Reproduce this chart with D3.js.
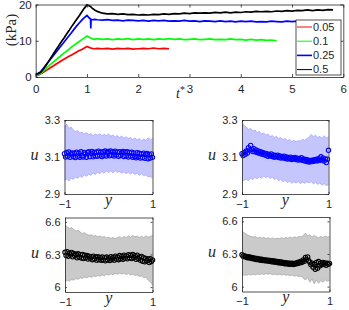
<!DOCTYPE html>
<meta charset="utf-8">
<style>
body { margin:0; background:#fff; }
svg { display:block; }
.tick text { font: 11px "Liberation Sans", Arial, sans-serif; fill:#262626; }
.domain, .tick line { stroke:#262626; stroke-width:0.8; }
.math { font-family: "Liberation Serif", "Times New Roman", serif; font-style: italic; fill:#262626; }
.leg { font: 11px "Liberation Sans", Arial, sans-serif; fill:#262626; }
</style>
<body>
<svg width="349" height="310"></svg>
<script src="https://d3js.org/d3.v7.min.js"></script>
<script>
// ---- top chart: load vs t* for four rates ----
var tPts = [0,0.05,0.1,0.15,0.2,0.25,0.3,0.35,0.4,0.45,0.5,0.55,0.6,0.65,0.7,0.75,0.8,0.85,0.9,0.95,1.0,1.05,1.07,1.075,1.08,1.1,1.15,1.2,
  1.3,1.4,1.5,1.6,1.7,1.8,1.9,2.0,2.1,2.2,2.3,2.4,2.5,2.6,2.7,2.8,2.9,3.0,3.1,3.2,3.3,3.4,3.5,3.6,3.7,3.8,3.9,4.0,
  4.1,4.2,4.3,4.4,4.5,4.6,4.7,4.8,4.9,5.0,5.1,5.2,5.3,5.4,5.5,5.6,5.7,5.8];
var rateNames = ["0.05", "0.1", "0.25", "0.5"];
var rateColors = ["#ff0000", "#00ff00", "#0000ff", "#000000"];
var sRed = [0.3,0.5,0.9,1.3,1.8,2.2,2.7,3.1,3.6,4.0,4.5,4.9,5.3,5.7,6.1,6.5,6.9,7.3,7.6,8.0,8.4,8.1,8.0,8.0,8.0,7.9,7.8,7.9,
  7.8,7.9,7.7,7.9,7.8,7.9,7.7,7.8,7.9,7.8,8.0,7.8,7.9,7.8];
var sGreen = [0.3,0.6,1.0,1.7,2.4,3.0,3.6,4.2,4.8,5.4,6.0,6.6,7.1,7.7,8.3,8.8,9.3,9.8,10.3,10.8,11.3,10.9,10.8,10.8,10.7,10.6,10.4,10.6,
  10.4,10.5,10.3,10.5,10.4,10.6,10.3,10.5,10.4,10.5,10.3,10.5,10.4,10.6,10.4,10.5,10.3,10.4,10.5,10.3,10.4,10.5,10.3,10.4,
  10.3,10.5,10.3,10.4,10.2,10.4,10.2,10.3,10.1,10.2,10.0];
var sBlue = [0.6,0.9,1.5,2.4,3.3,4.2,5.1,6.0,6.9,7.8,8.7,9.6,10.5,11.4,12.3,13.2,14.1,14.9,15.7,16.4,17.0,16.2,16.0,13.4,15.9,15.8,15.9,15.8,
  15.7,15.8,15.6,15.7,15.5,15.7,15.6,15.5,15.6,15.4,15.6,15.5,15.6,15.4,15.5,15.4,15.6,15.4,15.5,15.3,15.5,15.4,15.3,15.5,
  15.3,15.4,15.2,15.4,15.3,15.4,15.2,15.3,15.2,15.4,15.3,15.2,15.4,15.3,15.4,15.3,15.4,15.2,15.4,15.3,15.4,15.3];
var sBlack = [0.9,1.0,1.3,2.2,3.2,4.3,5.4,6.5,7.6,8.6,9.7,10.7,11.8,12.8,13.9,14.9,15.9,16.9,18.0,19.0,19.9,19.6,19.4,19.4,19.3,19.0,18.5,18.1,
  17.6,17.4,17.5,17.3,17.4,17.2,17.3,17.1,17.2,17.1,17.3,17.2,17.4,17.3,17.5,17.4,17.6,17.5,17.7,17.6,17.7,17.6,17.8,17.7,
  17.9,17.7,17.9,17.8,18.0,17.9,18.1,18.0,18.1,18.0,18.2,18.1,18.3,18.2,18.4,18.3,18.5,18.3,18.5,18.4,18.6,18.5];
var topXTicks = [0,1,2,3,4,5,6];
var topYTicks = [0,10,20];

// ---- lower panels: u across y ----
var yPos = [-1,-0.975,-0.95,-0.925,-0.9,-0.875,-0.85,-0.825,-0.8,-0.775,-0.75,-0.725,-0.7,-0.675,-0.65,-0.625,-0.6,-0.575,-0.55,-0.525,
  -0.5,-0.475,-0.45,-0.425,-0.4,-0.375,-0.35,-0.325,-0.3,-0.275,-0.25,-0.225,-0.2,-0.175,-0.15,-0.125,-0.1,-0.075,-0.05,-0.025,
  0,0.025,0.05,0.075,0.1,0.125,0.15,0.175,0.2,0.225,0.25,0.275,0.3,0.325,0.35,0.375,0.4,0.425,0.45,0.475,
  0.5,0.525,0.55,0.575,0.6,0.625,0.65,0.675,0.7,0.725,0.75,0.775,0.8,0.825,0.85,0.875,0.9,0.925,0.95,0.975,1];
var yBand = [-1,-0.95,-0.9,-0.85,-0.8,-0.75,-0.7,-0.65,-0.6,-0.55,-0.5,-0.45,-0.4,-0.35,-0.3,-0.25,-0.2,-0.15,-0.1,-0.05,
  0,0.05,0.1,0.15,0.2,0.25,0.3,0.35,0.4,0.45,0.5,0.55,0.6,0.65,0.7,0.75,0.8,0.85,0.9,0.95,1];

var uA = [3.118,3.100,3.124,3.104,3.127,3.098,3.116,3.122,3.101,3.120,
  3.097,3.126,3.104,3.121,3.099,3.128,3.106,3.100,3.125,3.116,
  3.099,3.123,3.128,3.102,3.120,3.130,3.101,3.124,3.106,3.127,
  3.104,3.131,3.110,3.126,3.103,3.129,3.108,3.132,3.105,3.127,
  3.130,3.107,3.133,3.110,3.128,3.105,3.131,3.111,3.126,3.104,
  3.129,3.108,3.124,3.130,3.103,3.127,3.106,3.128,3.100,3.124,
  3.105,3.126,3.099,3.122,3.103,3.096,3.123,3.101,3.120,3.094,
  3.117,3.097,3.121,3.093,3.115,3.119,3.091,3.114,3.095,3.117,3.098];
var hiA = [3.262,3.278,3.255,3.262,3.245,3.238,3.243,3.228,3.236,3.224,3.232,3.220,3.228,3.215,3.224,3.218,3.226,3.214,3.222,3.216,
  3.225,3.212,3.219,3.208,3.216,3.205,3.213,3.202,3.210,3.198,3.206,3.195,3.203,3.192,3.200,3.188,3.197,3.190,3.204,3.193,3.200];
var loA = [2.975,2.982,2.970,2.986,2.979,2.992,2.985,2.998,2.990,3.004,2.996,3.008,3.001,3.014,3.006,3.018,3.010,3.022,3.012,3.025,
  3.016,3.024,3.014,3.026,3.017,3.022,3.012,3.020,3.010,3.018,3.008,3.016,3.006,3.013,3.002,3.010,2.998,3.004,2.992,2.996,2.985];

var uB = [3.118,3.108,3.125,3.115,3.132,3.122,3.150,3.138,3.162,3.141,
  3.130,3.145,3.128,3.138,3.124,3.133,3.120,3.129,3.116,3.125,
  3.113,3.121,3.109,3.118,3.104,3.114,3.107,3.116,3.103,3.111,
  3.099,3.108,3.102,3.110,3.097,3.105,3.094,3.103,3.096,3.104,
  3.092,3.100,3.089,3.097,3.091,3.099,3.087,3.095,3.090,3.098,
  3.086,3.094,3.084,3.092,3.085,3.096,3.082,3.089,3.078,3.086,
  3.076,3.084,3.073,3.081,3.075,3.083,3.077,3.085,3.079,3.088,
  3.080,3.091,3.082,3.101,3.084,3.093,3.078,3.090,3.070,3.088,3.136];
var hiB = [3.287,3.270,3.262,3.248,3.255,3.240,3.246,3.232,3.238,3.224,3.230,3.218,3.224,3.210,3.216,3.206,3.212,3.200,3.206,3.194,
  3.200,3.188,3.194,3.184,3.190,3.182,3.188,3.186,3.196,3.190,3.200,3.206,3.222,3.210,3.218,3.205,3.212,3.200,3.215,3.203,3.210];
var loB = [2.966,2.975,2.980,2.972,2.986,2.978,2.990,2.982,2.994,2.985,2.998,2.988,2.996,2.984,2.992,2.978,2.986,2.972,2.980,2.966,
  2.974,2.962,2.970,2.958,2.966,2.960,2.968,2.956,2.964,2.958,2.966,2.960,2.968,2.955,2.963,2.952,2.960,2.948,2.956,2.945,2.952];

var uC = [6.320,6.290,6.325,6.284,6.312,6.296,6.318,6.278,6.310,6.288,
  6.302,6.270,6.306,6.276,6.298,6.268,6.300,6.262,6.294,6.272,
  6.290,6.258,6.285,6.266,6.280,6.252,6.284,6.260,6.276,6.248,
  6.280,6.254,6.272,6.246,6.278,6.250,6.270,6.242,6.276,6.252,
  6.268,6.244,6.280,6.256,6.272,6.248,6.284,6.258,6.276,6.252,
  6.290,6.262,6.282,6.256,6.294,6.266,6.286,6.260,6.298,6.270,
  6.292,6.262,6.300,6.272,6.288,6.255,6.294,6.262,6.276,6.246,
  6.282,6.238,6.270,6.232,6.264,6.242,6.258,6.226,6.262,6.236,6.250];
var hiC = [6.572,6.555,6.540,6.548,6.528,6.515,6.522,6.505,6.494,6.500,6.484,6.476,6.482,6.468,6.475,6.462,6.470,6.458,6.465,6.452,
  6.458,6.448,6.456,6.446,6.455,6.462,6.450,6.466,6.456,6.470,6.458,6.475,6.462,6.470,6.456,6.468,6.455,6.472,6.458,6.466,6.475];
var loC = [6.050,6.062,6.055,6.070,6.064,6.078,6.072,6.085,6.080,6.092,6.086,6.098,6.090,6.102,6.095,6.108,6.100,6.112,6.104,6.118,
  6.110,6.122,6.114,6.126,6.118,6.130,6.120,6.128,6.116,6.124,6.112,6.120,6.106,6.112,6.098,6.102,6.085,6.090,6.065,6.045,6.020];

var uD = [6.292,6.280,6.285,6.272,6.278,6.266,6.274,6.262,6.269,6.258,
  6.265,6.253,6.261,6.249,6.258,6.246,6.254,6.243,6.251,6.240,
  6.248,6.237,6.246,6.235,6.243,6.232,6.240,6.229,6.238,6.226,
  6.235,6.224,6.232,6.220,6.229,6.217,6.226,6.214,6.223,6.211,
  6.220,6.209,6.218,6.206,6.216,6.205,6.214,6.204,6.213,6.208,
  6.219,6.212,6.226,6.218,6.234,6.224,6.245,6.232,6.268,6.250,
  6.272,6.238,6.225,6.200,6.215,6.178,6.205,6.160,6.222,6.168,
  6.230,6.190,6.215,6.200,6.222,6.205,6.218,6.196,6.214,6.205,6.212];
var hiD = [6.510,6.495,6.482,6.470,6.462,6.455,6.460,6.448,6.455,6.445,6.452,6.442,6.450,6.440,6.448,6.438,6.446,6.440,6.450,6.442,
  6.452,6.445,6.455,6.448,6.458,6.450,6.462,6.456,6.470,6.492,6.465,6.478,6.455,6.470,6.458,6.448,6.462,6.450,6.466,6.455,6.460];
var loD = [6.100,6.108,6.104,6.112,6.106,6.114,6.108,6.116,6.110,6.118,6.112,6.120,6.114,6.118,6.110,6.116,6.108,6.114,6.106,6.112,
  6.104,6.110,6.100,6.106,6.096,6.102,6.090,6.096,6.080,6.060,6.085,6.040,6.070,6.025,6.060,6.030,6.055,6.040,6.062,6.050,6.058];

var svg = d3.select("svg");

// MATLAB-like box with inward ticks on all four sides
function boxAxes(g, x, y, xt, yt, tl, xpad, ypad, xfmt, yfmt) {
  var r = x.range(), h = y.range();
  g.append("g").attr("transform", "translate(0," + h[0] + ")")
    .call(d3.axisBottom(x).tickValues(xt).tickSizeInner(-tl).tickSizeOuter(0).tickPadding(xpad).tickFormat(xfmt));
  g.append("g").attr("transform", "translate(0," + h[1] + ")")
    .call(d3.axisTop(x).tickValues(xt).tickSizeInner(-tl).tickSizeOuter(0).tickFormat(""));
  g.append("g").attr("transform", "translate(" + r[0] + ",0)")
    .call(d3.axisLeft(y).tickValues(yt).tickSizeInner(-tl).tickSizeOuter(0).tickPadding(ypad).tickFormat(yfmt));
  g.append("g").attr("transform", "translate(" + r[1] + ",0)")
    .call(d3.axisRight(y).tickValues(yt).tickSizeInner(-tl).tickSizeOuter(0).tickFormat(""));
}

// top chart
var xT = d3.scaleLinear().domain([0, 6]).range([35.7, 343.3]);
var yT = d3.scaleLinear().domain([0, 20]).range([77, 4.5]);
var gTop = svg.append("g");
var series = [sRed, sGreen, sBlue, sBlack];
var line = d3.line().x(function(d) { return xT(d[0]); }).y(function(d) { return yT(d[1]); });
series.forEach(function(s, i) {
  gTop.append("path")
    .datum(s.map(function(v, j) { return [tPts[j], v]; }))
    .attr("d", line)
    .attr("fill", "none")
    .attr("stroke", rateColors[i])
    .attr("stroke-width", 1.7);
});
boxAxes(gTop, xT, yT, topXTicks, topYTicks, 3, 7.5, 4, d3.format("d"), d3.format("d"));
gTop.selectAll(".tick text").style("font-size", "11.5px");

var tl = gTop.append("text").attr("class", "math").attr("x", 185).attr("y", 98)
  .attr("text-anchor", "end").style("font-size", "14px");
tl.append("tspan").text("t");
tl.append("tspan").attr("dy", -5).style("font-size", "10px").style("font-style", "normal").text("*");

gTop.append("text")
  .attr("transform", "translate(16,30) rotate(-90)")
  .attr("text-anchor", "middle")
  .style("font", "15px 'Liberation Serif', serif").style("fill", "#262626")
  .text("(kPa)");

// legend
var lg = gTop.append("g");
lg.append("rect").attr("x", 296).attr("y", 20).attr("width", 45).attr("height", 55)
  .attr("fill", "#fff").attr("stroke", "#262626").attr("stroke-width", 0.8);
rateNames.forEach(function(n, i) {
  var yy = 27 + i * 14.2;
  lg.append("line").attr("x1", 297).attr("x2", 312).attr("y1", yy).attr("y2", yy)
    .attr("stroke", rateColors[i]).attr("stroke-width", i == 2 ? 1.6 : 1);
  lg.append("text").attr("class", "leg").attr("x", 313).attr("y", yy).attr("dy", "0.35em").text(n);
});

// lower panels
var panels = [
  {x0: 64.5, x1: 152.5, y0: 194, y1: 120, dom: [2.9, 3.3], ticks: [2.9, 3.1, 3.3], u: uA, hi: hiA, lo: loA, blue: true},
  {x0: 242, x1: 328.5, y0: 194, y1: 120, dom: [2.9, 3.3], ticks: [2.9, 3.1, 3.3], u: uB, hi: hiB, lo: loB, blue: true},
  {x0: 65, x1: 152.5, y0: 292, y1: 217.5, dom: [5.955, 6.64], ticks: [6, 6.3, 6.6], u: uC, hi: hiC, lo: loC, blue: false},
  {x0: 242, x1: 329.5, y0: 291.5, y1: 217, dom: [5.955, 6.64], ticks: [6, 6.3, 6.6], u: uD, hi: hiD, lo: loD, blue: false}
];

panels.forEach(function(p) {
  var g = svg.append("g");
  var x = d3.scaleLinear().domain([-1, 1]).range([p.x0, p.x1]);
  var y = d3.scaleLinear().domain(p.dom).range([p.y0, p.y1]);
  var fill = p.blue ? "#c6c6fe" : "#cacaca";
  var edge = p.blue ? "#9d9dff" : "#a3a3a3";
  var mark = p.blue ? "#0000ff" : "#000000";

  g.append("path")
    .datum(yBand)
    .attr("d", d3.area().x(function(d) { return x(d); })
      .y0(function(d, i) { return y(p.lo[i]); })
      .y1(function(d, i) { return y(p.hi[i]); }))
    .attr("fill", fill);
  [p.hi, p.lo].forEach(function(arr) {
    g.append("path")
      .datum(yBand)
      .attr("d", d3.line().x(function(d) { return x(d); }).y(function(d, i) { return y(arr[i]); }))
      .attr("fill", "none").attr("stroke", edge).attr("stroke-width", 0.7);
  });
  g.selectAll("circle").data(yPos).enter().append("circle")
    .attr("cx", function(d) { return x(d); })
    .attr("cy", function(d, i) { return y(p.u[i]); })
    .attr("r", 2.2)
    .attr("fill", "none").attr("stroke", mark).attr("stroke-width", 1.05);

  boxAxes(g, x, y, [-1, 1], p.ticks, 2, 6, 4.5, d3.format("d"), d3.format(""));

  g.append("text").attr("class", "math").attr("x", p.x0 - 30).attr("y", (p.y0 + p.y1) / 2 + 3)
    .attr("text-anchor", "middle").style("font-size", "16px").text("u");
  g.append("text").attr("class", "math").attr("x", (p.x0 + p.x1) / 2).attr("y", p.y0 + 10.5)
    .attr("text-anchor", "middle").style("font-size", "16px").text("y");
});
</script>
